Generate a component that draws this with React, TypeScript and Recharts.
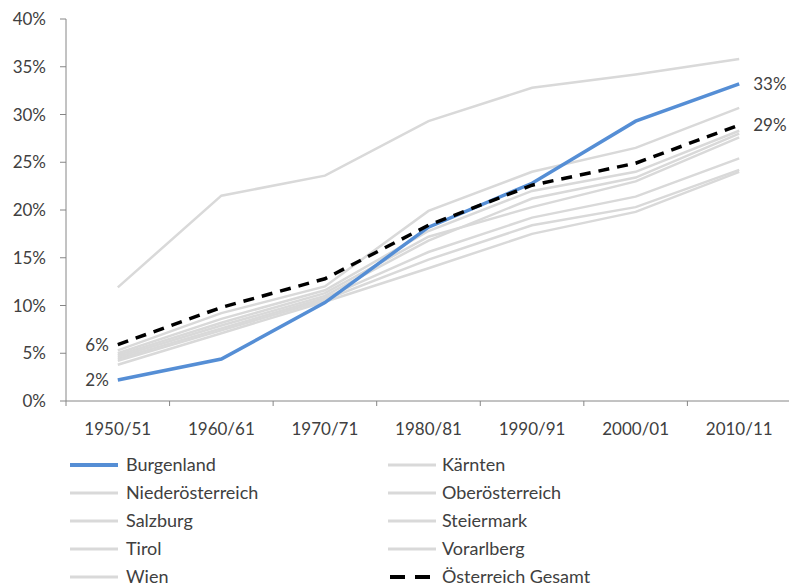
import { LineChart, Line, XAxis, YAxis, LabelList } from "recharts";

// Share per census period, in percent
const periods = ["1950/51", "1960/61", "1970/71", "1980/81", "1990/91", "2000/01", "2010/11"];

const burgenland = [2.2, 4.4, 10.3, 18.2, 22.8, 29.3, 33.2];
const kaernten = [5.3, 9.2, 12.0, 19.9, 24.0, 26.5, 30.7];
const niederoesterreich = [4.8, 8.2, 11.3, 17.2, 20.3, 23.0, 27.6];
const oberoesterreich = [4.4, 7.6, 10.8, 15.6, 19.2, 21.4, 25.4];
const salzburg = [5.0, 8.6, 11.6, 17.8, 22.0, 24.0, 28.3];
const steiermark = [4.6, 7.9, 11.0, 16.8, 21.2, 23.4, 28.0];
const tirol = [4.2, 7.4, 10.6, 14.8, 18.4, 20.3, 24.2];
const vorarlberg = [3.8, 7.1, 10.4, 13.9, 17.5, 19.8, 24.0];
const wien = [11.9, 21.5, 23.6, 29.3, 32.8, 34.2, 35.8];
const gesamt = [5.9, 9.8, 12.8, 18.4, 22.6, 24.9, 28.9];

const yTicks = [0, 5, 10, 15, 20, 25, 30, 35, 40];

const GRAY = "#d9d9d9";
const BLUE = "#558ed5";
const AXIS = "#868686";
const TEXT = "#404040";

// half of one category slot, so points sit in the middle of each slot
const HALF_SLOT = 51.8;

type Kind = "region" | "highlight" | "total";

// legend order, filled row by row in two columns
const series: { name: string; values: number[]; kind: Kind }[] = [
  { name: "Burgenland", values: burgenland, kind: "highlight" },
  { name: "Kärnten", values: kaernten, kind: "region" },
  { name: "Niederösterreich", values: niederoesterreich, kind: "region" },
  { name: "Oberösterreich", values: oberoesterreich, kind: "region" },
  { name: "Salzburg", values: salzburg, kind: "region" },
  { name: "Steiermark", values: steiermark, kind: "region" },
  { name: "Tirol", values: tirol, kind: "region" },
  { name: "Vorarlberg", values: vorarlberg, kind: "region" },
  { name: "Wien", values: wien, kind: "region" },
  { name: "Österreich Gesamt", values: gesamt, kind: "total" },
];

const rows = periods.map((period, i) => {
  const row: Record<string, string | number> = { period };
  series.forEach((s) => {
    row[s.name] = s.values[i];
  });
  return row;
});

// grey regions underneath, highlighted ones on top
const drawOrder = [
  ...series.filter((s) => s.kind === "region"),
  ...series.filter((s) => s.kind === "highlight"),
  ...series.filter((s) => s.kind === "total"),
];

// period label plus the small marks on the slot borders
function PeriodTick(props: any) {
  const { x, y, payload, index } = props;
  const last = index === periods.length - 1;
  return (
    <g>
      <line x1={x - HALF_SLOT} x2={x - HALF_SLOT} y1={y} y2={y + 5} stroke={AXIS} />
      {last && (
        <line x1={x + HALF_SLOT} x2={x + HALF_SLOT} y1={y} y2={y + 5} stroke={AXIS} />
      )}
      <text x={x} y={y + 22} dy="0.71em" textAnchor="middle" fill={TEXT} fontSize={17}>
        {payload.value}
      </text>
    </g>
  );
}

function EndLabel(props: any) {
  const { x, y, value, index } = props;
  if (index !== 0 && index !== periods.length - 1) return null;
  const left = index === 0;
  return (
    <text
      x={left ? x - 9 : x + 14}
      y={y}
      dy="0.35em"
      textAnchor={left ? "end" : "start"}
      fill={TEXT}
      fontSize={17}
    >
      {`${Math.round(value)}%`}
    </text>
  );
}

function strokeFor(kind: Kind) {
  if (kind === "highlight") return { stroke: BLUE, strokeWidth: 3.5 };
  if (kind === "total") return { stroke: "#000", strokeWidth: 3.5, strokeDasharray: "11 8" };
  return { stroke: GRAY, strokeWidth: 2.5 };
}

function LegendBlock() {
  const cols = [
    { line: 70, text: 126 },
    { line: 388, text: 442 },
  ];
  return (
    <svg
      width={789}
      height={140}
      style={{ position: "absolute", left: 0, top: 445 }}
    >
      {series.map((s, i) => {
        const col = cols[i % 2];
        const y = 20 + Math.floor(i / 2) * 28;
        const st = strokeFor(s.kind);
        const dashed = s.kind === "total";
        return (
          <g key={s.name}>
            <line
              x1={dashed ? col.line + 2 : col.line}
              x2={dashed ? col.line + 42 : col.line + 48}
              y1={y}
              y2={y}
              stroke={st.stroke}
              strokeWidth={s.kind === "region" ? 3 : 4}
              strokeDasharray={dashed ? "15 10" : undefined}
            />
            <text x={col.text} y={y} dy="0.35em" fontSize={18} fill={TEXT}>
              {s.name}
            </text>
          </g>
        );
      })}
    </svg>
  );
}

export default function App() {
  return (
    <div
      style={{
        position: "relative",
        width: 789,
        height: 585,
        overflow: "hidden",
        background: "#fff",
        fontFamily: "Lato, sans-serif",
      }}
    >
      <style>{"body{margin:0}"}</style>
      <LineChart
        width={795}
        height={440}
        data={rows}
        margin={{ top: 19, right: 4, bottom: 0, left: 0 }}
      >
        <XAxis
          dataKey="period"
          height={39}
          padding={{ left: HALF_SLOT, right: HALF_SLOT }}
          axisLine={{ stroke: AXIS }}
          tickLine={false}
          tickSize={0}
          tickMargin={0}
          interval={0}
          tick={PeriodTick}
        />
        <YAxis
          width={66}
          domain={[0, 40]}
          ticks={yTicks}
          tickFormatter={(v) => `${v}%`}
          tickSize={6}
          tickMargin={14}
          axisLine={{ stroke: AXIS }}
          tickLine={{ stroke: AXIS }}
          tick={{ fill: TEXT, fontSize: 17 }}
        />
        {drawOrder.map((s) => (
          <Line
            key={s.name}
            type="linear"
            dataKey={s.name}
            dot={false}
            activeDot={false}
            isAnimationActive={false}
            {...strokeFor(s.kind)}
          >
            {s.kind !== "region" && (
              <LabelList dataKey={s.name} content={EndLabel} />
            )}
          </Line>
        ))}
      </LineChart>
      <LegendBlock />
    </div>
  );
}
